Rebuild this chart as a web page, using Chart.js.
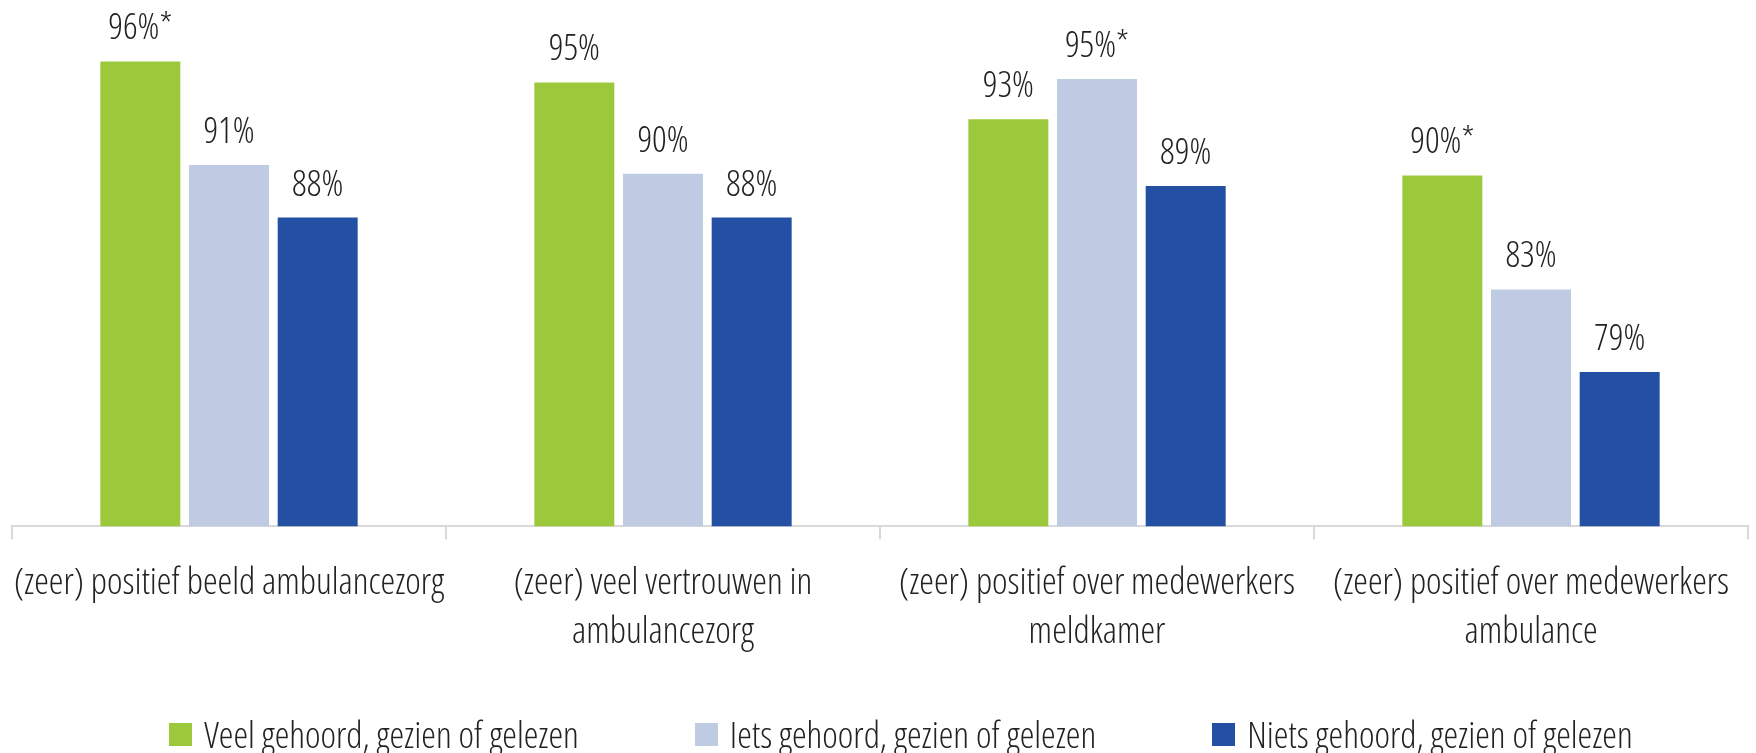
<!DOCTYPE html>
<html>
<head>
<meta charset="utf-8">
<script src="https://cdn.jsdelivr.net/npm/chart.js@4/dist/chart.umd.min.js"></script>
<style>
  html, body { margin: 0; padding: 0; background: #ffffff; }
  #wrap { position: relative; width: 1756px; height: 753px; }
  #legend { position: absolute; left: 0; top: 713px; width: 1756px; box-sizing: border-box; padding-left: 46px;
            display: flex; justify-content: center; gap: 116px;
            font-family: 'Open Sans', sans-serif; font-weight: 300; font-stretch: condensed;
            font-size: 37px; line-height: 42px; color: #222222; }
  .item { display: flex; align-items: center; white-space: nowrap; }
  .box { width: 23px; height: 23px; margin-right: 12px; flex: none; }
</style>
</head>
<body>
<div id="wrap">
  <canvas id="c" width="1756" height="753"></canvas>
  <div id="legend"></div>
</div>
<script>
const categories = [
  ["(zeer) positief beeld ambulancezorg"],
  ["(zeer) veel vertrouwen in", "ambulancezorg"],
  ["(zeer) positief over medewerkers", "meldkamer"],
  ["(zeer) positief over medewerkers", "ambulance"]
];
const seriesNames = ["Veel gehoord, gezien of gelezen", "Iets gehoord, gezien of gelezen", "Niets gehoord, gezien of gelezen"];
const veelValues  = [96.5, 95.3, 93.2, 90.0];
const ietsValues  = [90.6, 90.1, 95.5, 83.5];
const nietsValues = [87.6, 87.6, 89.4, 78.8];
const veelLabels  = ["96%*", "95%", "93%", "90%*"];
const ietsLabels  = ["91%", "90%", "95%*", "83%"];
const nietsLabels = ["88%", "88%", "89%", "79%"];
const seriesColors = ["#9BC93B", "#BFCBE3", "#2450A4"];

const FAMILY = "'Open Sans', sans-serif";
const TEXT = "#222222";

const valueLabelPlugin = {
  id: 'valueLabels',
  afterDatasetsDraw(chart) {
    const ctx = chart.ctx;
    ctx.save();
    ctx.font = "normal condensed 300 36px " + FAMILY;
    ctx.fillStyle = TEXT;
    ctx.textAlign = 'center';
    ctx.textBaseline = 'alphabetic';
    chart.data.datasets.forEach((ds, di) => {
      const meta = chart.getDatasetMeta(di);
      meta.data.forEach((el, i) => {
        ctx.fillText(ds.valueLabels[i], el.x, el.y - 22);
      });
    });
    ctx.restore();
  }
};

const chart = new Chart(document.getElementById('c'), {
  type: 'bar',
  data: {
    labels: categories,
    datasets: [
      { label: seriesNames[0], data: veelValues,  backgroundColor: seriesColors[0], valueLabels: veelLabels },
      { label: seriesNames[1], data: ietsValues,  backgroundColor: seriesColors[1], valueLabels: ietsLabels },
      { label: seriesNames[2], data: nietsValues, backgroundColor: seriesColors[2], valueLabels: nietsLabels }
    ]
  },
  options: {
    responsive: false,
    animation: false,
    devicePixelRatio: 1,
    layout: { padding: { left: 12, right: 8, top: 0, bottom: 76 } },
    datasets: { bar: { categoryPercentage: 0.613, barPercentage: 0.902 } },
    plugins: {
      legend: { display: false },
      tooltip: { enabled: false }
    },
    scales: {
      y: { display: false, min: 70, max: 100 },
      x: {
        afterFit(scale) { scale.paddingLeft = 0; scale.paddingRight = 0; },
        grid: { drawOnChartArea: false, drawTicks: true, tickLength: 13, color: '#d9d9d9', lineWidth: 2 },
        border: { display: true, color: '#d9d9d9', width: 2 },
        ticks: {
          color: TEXT, padding: 20, autoSkip: false, maxRotation: 0, minRotation: 0,
          font: { family: FAMILY, style: 'normal', weight: 'condensed 300', size: 37, lineHeight: 1.32 }
        }
      }
    }
  },
  plugins: [valueLabelPlugin]
});

const legendEl = document.getElementById('legend');
chart.data.datasets.forEach(ds => {
  const item = document.createElement('div');
  item.className = 'item';
  const box = document.createElement('span');
  box.className = 'box';
  box.style.background = ds.backgroundColor;
  const txt = document.createElement('span');
  txt.textContent = ds.label;
  item.appendChild(box);
  item.appendChild(txt);
  legendEl.appendChild(item);
});
</script>
</body>
</html>
